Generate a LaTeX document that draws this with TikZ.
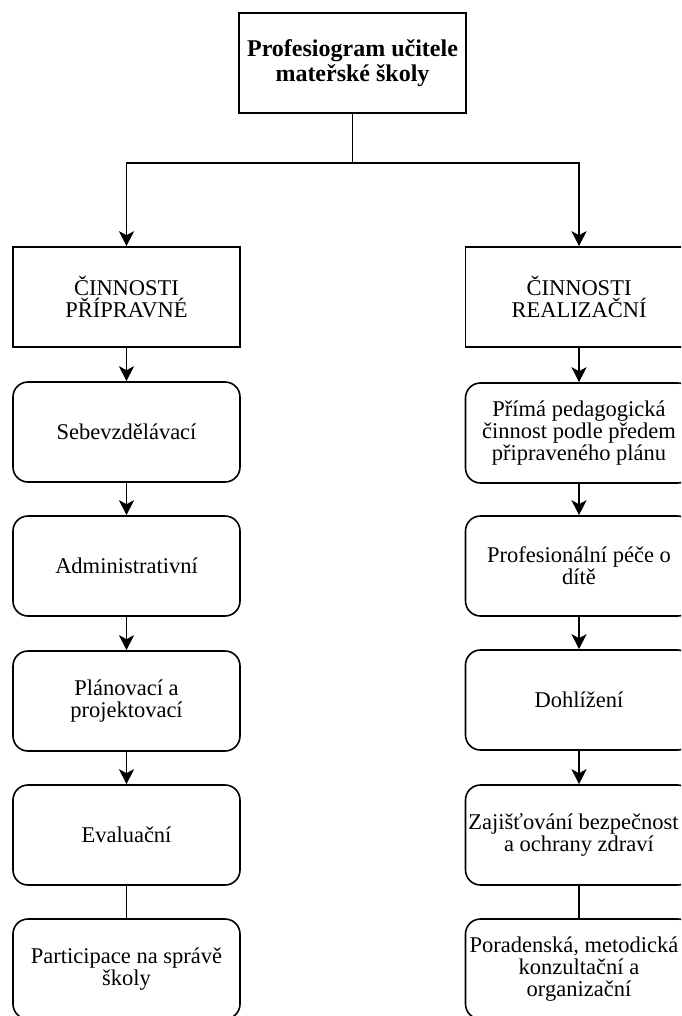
\documentclass[tikz,border=0pt]{standalone}
\usepackage{fontspec}
\setmainfont{Liberation Serif}
\usetikzlibrary{arrows.meta}
\begin{document}
\begin{tikzpicture}[x=1pt,y=-1pt,
  box/.style={draw, line width=1.6pt, minimum width=227pt, minimum height=100pt, align=center, inner sep=2pt, font=\fontsize{22.5}{22}\selectfont},
  rbox/.style={box, rounded corners=15pt},
  arr/.style={-{Stealth[length=15pt,width=15pt,inset=4pt]}, line width=1.6pt},
  ln/.style={line width=1.6pt}]
\useasboundingbox (0,0) rectangle (681,1016);
\fill[white] (0,0) rectangle (681,1016);
\clip (0,0) rectangle (681,1016);

\node[box, font=\fontsize{24}{25}\selectfont\bfseries] (top) at (352.5,63) {Profesiogram učitele\\mateřské školy};

\node[box] (lh) at (126.5,297) {ČINNOSTI\\PŘÍPRAVNÉ};
\node[box] (rh) at (579,297) {ČINNOSTI\\REALIZAČNÍ};

\node[rbox] (l1) at (126.5,432) {Sebevzdělávací};
\node[rbox] (l2) at (126.5,566) {Administrativní};
\node[rbox] (l3) at (126.5,701) {Plánovací a\\projektovací};
\node[rbox] (l4) at (126.5,835) {Evaluační};
\node[rbox] (l5) at (126.5,969) {Participace na správě\\školy};

\node[rbox] (r1) at (579,433) {Přímá pedagogická\\činnost podle předem\\připraveného plánu};
\node[rbox] (r2) at (579,566) {Profesionální péče o\\dítě};
\node[rbox] (r3) at (579,700) {Dohlížení};
\node[rbox] (r4) at (579,835) {\hspace*{-11pt}Zajišťování bezpečnost\\a ochrany zdraví};
\node[rbox] (r5) at (579,969) {\hspace*{-10pt}Poradenská, metodická\\konzultační a\\organizační};

\coordinate (j) at (352.5,163);
\draw[ln] (top.south) -- (j);
\draw[arr] (j) -| (lh.north);
\draw[arr] (j) -| (rh.north);

\draw[arr] (lh) -- (l1);
\draw[arr] (l1) -- (l2);
\draw[arr] (l2) -- (l3);
\draw[arr] (l3) -- (l4);
\draw[ln] (l4) -- (l5);

\draw[arr] (rh) -- (r1);
\draw[arr] (r1) -- (r2);
\draw[arr] (r2) -- (r3);
\draw[arr] (r3) -- (r4);
\draw[ln] (r4) -- (r5);
\end{tikzpicture}
\end{document}
